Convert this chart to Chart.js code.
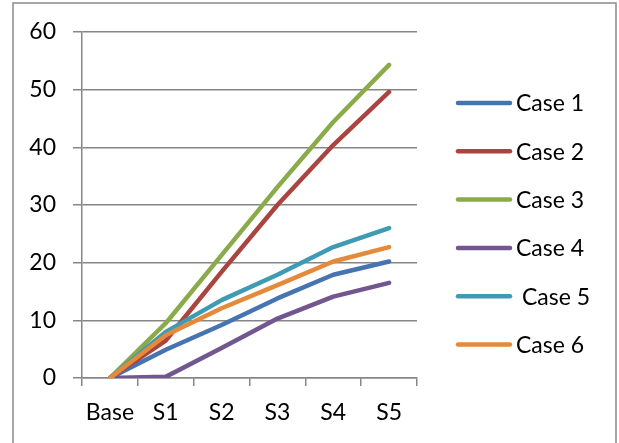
<!DOCTYPE html>
<html>
<head>
<meta charset="utf-8">
<script src="https://cdn.jsdelivr.net/npm/chart.js@4/dist/chart.umd.min.js"></script>
<style>
  html, body { margin: 0; padding: 0; background: #fff; }
  #wrap { width: 619px; height: 443px; }
</style>
</head>
<body>
<div id="wrap"><canvas id="c" width="619" height="443"></canvas></div>
<script>
const categories = ['Base', 'S1', 'S2', 'S3', 'S4', 'S5'];
const seriesNames = ['Case 1', 'Case 2', 'Case 3', 'Case 4', ' Case 5', 'Case 6'];
const case1 = [0, 4.9, 9.2, 13.8, 17.9, 20.2];
const case2 = [0, 6.5, 18.4, 30.0, 40.4, 49.6];
const case3 = [0, 9.5, 21.3, 33.1, 44.4, 54.3];
const case4 = [0, 0.2, 5.2, 10.3, 14.1, 16.5];
const case5 = [0, 8.0, 13.5, 17.9, 22.7, 26.0];
const case6 = [0, 7.4, 12.1, 16.1, 20.2, 22.7];
const yTicks = [0, 10, 20, 30, 40, 50, 60];

const colors = ['#4674B0', '#AA4441', '#8BAB4B', '#71568F', '#3F9BB3', '#E5893B'];
const allSeries = [case1, case2, case3, case4, case5, case6];
const FONT = 'Lato';
const FSIZE = 23;

const datasets = allSeries.map((d, i) => ({
  label: seriesNames[i],
  data: d,
  borderColor: colors[i],
  backgroundColor: colors[i],
  borderWidth: 4.5,
  borderCapStyle: 'round',
  borderJoinStyle: 'round',
  pointRadius: 0,
  tension: 0,
  fill: false,
  order: allSeries.length - i
}));

const frame = {
  id: 'frame',
  beforeDraw(chart) {
    const ctx = chart.ctx;
    ctx.save();
    ctx.fillStyle = '#fff';
    ctx.fillRect(0, 0, chart.width, chart.height);
    ctx.strokeStyle = '#8a8a8a';
    ctx.lineWidth = 1.5;
    ctx.strokeRect(13, 3, 603, 500);
    ctx.restore();
  }
};

const sideLegend = {
  id: 'sideLegend',
  afterDraw(chart) {
    const ctx = chart.ctx;
    ctx.save();
    ctx.font = FSIZE + 'px ' + FONT;
    ctx.textBaseline = 'middle';
    ctx.textAlign = 'left';
    chart.data.datasets.forEach((ds, i) => {
      const y = 103 + i * 48.3;
      ctx.strokeStyle = ds.borderColor;
      ctx.lineWidth = 4.5;
      ctx.lineCap = 'round';
      ctx.beginPath();
      ctx.moveTo(458, y);
      ctx.lineTo(510, y);
      ctx.stroke();
      ctx.fillStyle = '#000';
      ctx.fillText(ds.label, 516, y + 1);
    });
    ctx.restore();
  }
};

new Chart(document.getElementById('c'), {
  type: 'line',
  data: { labels: categories, datasets },
  plugins: [frame, sideLegend],
  options: {
    responsive: false,
    animation: false,
    layout: { padding: { left: 0, right: 202, top: 32, bottom: 0 } },
    plugins: { legend: { display: false }, tooltip: { enabled: false } },
    scales: {
      x: {
        offset: true,
        grid: { offset: true, drawOnChartArea: false, drawTicks: true, tickLength: 8, color: '#868686', lineWidth: 1.5 },
        border: { display: true, color: '#868686', width: 1.5 },
        ticks: { color: '#000', font: { family: FONT, size: FSIZE }, padding: 13, maxRotation: 0 },
        afterFit(s) { s.height = 65; }
      },
      y: {
        min: 0, max: 60,
        afterBuildTicks(s) { s.ticks = yTicks.map(v => ({ value: v })); },
        grid: { color: '#868686', lineWidth: 1.5, tickLength: 9 },
        border: { display: true, color: '#868686', width: 1.5 },
        ticks: { color: '#000', font: { family: FONT, size: FSIZE }, padding: 17 },
        afterFit(s) { s.width = 82; }
      }
    }
  }
});
</script>
</body>
</html>
